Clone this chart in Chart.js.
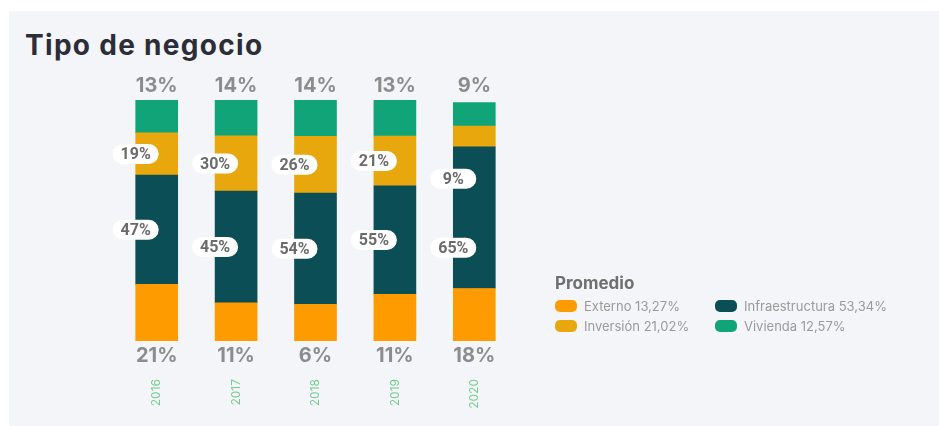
<!DOCTYPE html>
<html>
<head>
<meta charset="utf-8">
<script src="https://cdn.jsdelivr.net/npm/chart.js@4"></script>
<style>
  body{margin:0;background:#fff;width:939px;height:426px;overflow:hidden;position:relative;font-family:Inter,"Noto Sans",sans-serif;}
  #panel{position:absolute;left:9px;top:11px;right:0;bottom:0;background:#f4f5f8;}
  #title{position:absolute;left:25px;top:28px;font:700 28px Inter,"Noto Sans",sans-serif;color:#2c2d38;letter-spacing:1.3px;}
  #wrap{position:absolute;left:0;top:0;width:939px;height:426px;}
  #legend{position:absolute;left:555px;top:273px;color:#9a9a9a;font:400 13px Inter,sans-serif;}
  #legend h4{margin:0 0 6px 0;font:700 17px Inter,sans-serif;color:#6f6f6f;}
  #legend .grid{display:grid;grid-template-columns:160px 200px;row-gap:6px;}
  #legend .item{display:flex;align-items:center;height:14px;}
  #legend .sw{width:22px;height:12px;border-radius:5px;margin-right:7px;}
</style>
</head>
<body>
<div id="panel"></div>
<div id="title">Tipo de negocio</div>
<div id="wrap"><canvas id="chart" width="939" height="426"></canvas></div>
<div id="legend"><h4>Promedio</h4><div class="grid" id="legendGrid"></div></div>
<script>
// categorias
var years = ["2016", "2017", "2018", "2019", "2020"];

// alturas de los segmentos tal como se dibujan
var externo = [23.5, 15.8, 15.2, 19.4, 21.8];
var infraestructura = [45.3, 46.4, 46.2, 45.0, 58.8];
var inversion = [17.6, 22.9, 23.5, 20.6, 8.6];
var vivienda = [13.6, 15.0, 15.0, 15.0, 9.7];

// etiquetas impresas
var externoLabels = ["21%", "11%", "6%", "11%", "18%"];
var infraLabels = ["47%", "45%", "54%", "55%", "65%"];
var inversionLabels = ["19%", "30%", "26%", "21%", "9%"];
var viviendaLabels = ["13%", "14%", "14%", "13%", "9%"];

// promedio
var legendNames = ["Externo 13,27%", "Inversión 21,02%", "Infraestructura 53,34%", "Vivienda 12,57%"];

var colors = {
    externo: "#fd9b00",
    inversion: "#e8a80d",
    infra: "#0b4e55",
    vivienda: "#12a479"
};
var legendColors = [colors.externo, colors.inversion, colors.infra, colors.vivienda];

var legendGrid = document.getElementById("legendGrid");
// column order: Externo, Infra / Inversion, Vivienda
var order = [0, 2, 1, 3];
for(var i=0;i<order.length;i++){
    var k = order[i];
    legendGrid.innerHTML += '<div class="item"><span class="sw" style="background:'+legendColors[k]+'"></span>'+legendNames[k]+'</div>';
}

function pill(ctx, x, y, w, h){
    var r = h/2;
    ctx.beginPath();
    ctx.moveTo(x-w/2+r, y-h/2);
    ctx.lineTo(x+w/2-r, y-h/2);
    ctx.arc(x+w/2-r, y, r, -Math.PI/2, Math.PI/2);
    ctx.lineTo(x-w/2+r, y+h/2);
    ctx.arc(x-w/2+r, y, r, Math.PI/2, Math.PI*1.5);
    ctx.closePath();
    ctx.fill();
}

var labelPlugin = {
    id: "segLabels",
    afterDatasetsDraw: function(chart){
        var ctx = chart.ctx;
        var area = chart.chartArea;
        var infMeta = chart.getDatasetMeta(1);
        var invMeta = chart.getDatasetMeta(2);
        ctx.save();
        ctx.textAlign = "center";
        ctx.textBaseline = "middle";
        for(var i=0;i<years.length;i++){
            var bar = invMeta.data[i];
            var inf = infMeta.data[i];
            var x = bar.x;
            var left = x - bar.width/2;

            // arriba y abajo
            ctx.fillStyle = "#8c8c8c";
            ctx.font = "700 20px Inter, sans-serif";
            ctx.fillText(viviendaLabels[i], x, area.top - 14);
            ctx.fillText(externoLabels[i], x, area.bottom + 15);

            // inversion
            var invH = bar.base - bar.y;
            var yInv = (bar.y + bar.base)/2;
            if(invH < 28){ yInv = bar.base + 32; }
            var yInf = Math.max((inf.y + inf.base)/2, yInv + 69);

            ctx.font = "700 16px Roboto, sans-serif";
            var pairs = [[yInv, inversionLabels[i]], [yInf, infraLabels[i]]];
            for(var j=0;j<pairs.length;j++){
                ctx.fillStyle = "#ffffff";
                pill(ctx, left, pairs[j][0], 46, 20);
                ctx.fillStyle = "#6b6b6b";
                ctx.fillText(pairs[j][1], left, pairs[j][0] + 1);
            }
        }
        ctx.restore();
    }
};

var ctx = document.getElementById("chart");
var chart = new Chart(ctx, {
    type: "bar",
    data: {
        labels: years,
        datasets: [
            {label: "Externo", data: externo, backgroundColor: colors.externo},
            {label: "Infraestructura", data: infraestructura, backgroundColor: colors.infra},
            {label: "Inversión", data: inversion, backgroundColor: colors.inversion},
            {label: "Vivienda", data: vivienda, backgroundColor: colors.vivienda}
        ]
    },
    options: {
        responsive: false,
        animation: false,
        devicePixelRatio: 1,
        layout: {padding: {left: 117, right: 425, top: 100, bottom: 0}},
        datasets: {bar: {barThickness: 42, borderWidth: 0}},
        plugins: {legend: {display: false}, tooltip: {enabled: false}},
        scales: {
            x: {
                stacked: true,
                grid: {display: false, drawTicks: false},
                border: {display: false},
                ticks: {
                    color: "#72cc8e",
                    font: {family: "Inter", size: 12},
                    minRotation: 90,
                    maxRotation: 90,
                    padding: 38
                },
                afterFit: function(axis){ axis.height = 85; }
            },
            y: {stacked: true, display: false, min: 0, max: 100}
        }
    },
    plugins: [labelPlugin]
});
</script>
</body>
</html>
